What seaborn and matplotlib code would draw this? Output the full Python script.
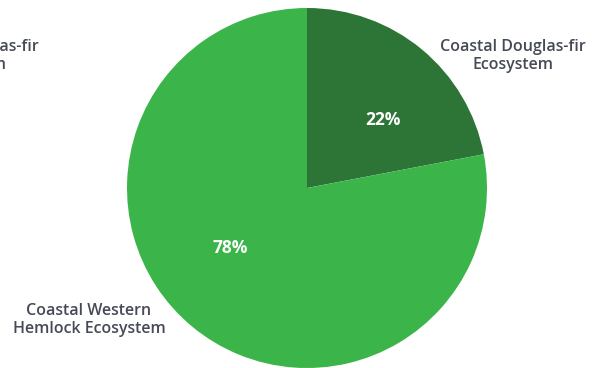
import matplotlib
matplotlib.use("Agg")
import matplotlib.pyplot as plt
import seaborn as sns

sns.set_theme(style="white")
plt.rcParams["font.family"] = ["Open Sans", "DejaVu Sans"]

# Share of area by ecosystem
categories = ["Coastal Douglas-fir\nEcosystem", "Coastal Western\nHemlock Ecosystem"]
shares = [22, 78]
colors = ["#2d7536", "#3bb54a"]

W, H = 593, 368
fig = plt.figure(figsize=(W / 100, H / 100), dpi=100)
ax = fig.add_axes([0, 0, 1, 1])

cx, cy, r = 307, H - 188, 180
ax.pie(shares, colors=colors, startangle=90, counterclock=False,
       center=(cx, cy), radius=r, wedgeprops=dict(linewidth=0))
ax.set_xlim(0, W)
ax.set_ylim(0, H)
ax.set_aspect("equal")
ax.axis("off")

text_color = "#454a55"
label_pos = [(513, H - 56), (89, H - 320)]
for name, (x, y) in zip(categories, label_pos):
    ax.text(x, y, name, ha="center", va="center", fontsize=11.5,
            fontweight="semibold", color=text_color, linespacing=1.2)

# Repeated heading trimmed by the left edge
ax.text(-34, H - 56, categories[0], ha="center", va="center", fontsize=11.5,
        fontweight="semibold", color=text_color, linespacing=1.2, clip_on=False)

pct_pos = [(383, H - 120), (230, H - 248)]
for v, (x, y) in zip(shares, pct_pos):
    ax.text(x, y, f"{v}%", ha="center", va="center", fontsize=12.5,
            fontweight="bold", color="white")

fig.savefig("out.png", dpi=100)
